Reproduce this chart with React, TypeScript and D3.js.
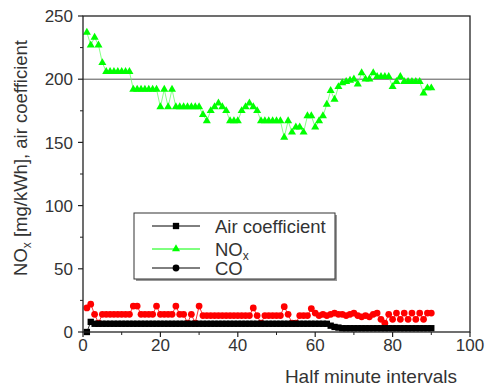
import React from "react";
import * as d3 from "d3";

const W = 489;
const H = 387;

const xIdx: number[] = d3.range(1, 91);

const noxValues: number[] = [
  237, 227, 233, 227, 213, 206, 206, 206, 206, 206, 206, 206,
  192, 192, 192, 192, 192, 192, 192,
  178, 192, 178, 192, 178, 178, 178, 178, 178, 178, 178,
  172, 167, 175, 178, 181, 178, 175, 167, 167, 167,
  175, 178, 181, 178, 175, 167, 167, 167, 167, 167,
  167, 154, 167, 158, 162, 162, 158, 171, 171, 162,
  167, 171, 180, 191, 184, 194, 197, 198, 199, 200,
  196, 205, 200, 200, 205, 202, 202, 202, 202, 194,
  198, 202, 198, 198, 198, 198, 198, 189, 193, 193,
];

const airValues: number[] = [
  0, 8, 6.5, 6.5, 6.5, 6.5, 6.5, 6.5, 6.5, 6.5,
  6.5, 6.5, 6.5, 6.5, 6.5, 6.5, 6.5, 6.5, 6.5, 6.5,
  6.5, 6.5, 6.5, 6.5, 6.5, 6.5, 6.5, 6.5, 6.5, 6.5,
  6.5, 6.5, 6.5, 6.5, 6.5, 6.5, 6.5, 6.5, 6.5, 6.5,
  6.5, 6.5, 6.5, 6.5, 6.5, 6.5, 6.5, 6.5, 6.5, 6.5,
  6.5, 6.5, 6.5, 6.5, 6.5, 6.5, 6.5, 6.5, 6.5, 6.5,
  6.5, 6.5, 6.5, 5, 4, 3.5, 3, 3, 3, 3,
  3, 3, 3, 3, 3, 3, 3, 3, 3, 3,
  3, 3, 3, 3, 3, 3, 3, 3, 3, 3,
];

const coValues: number[] = [
  19, 22, 14, 7, 14, 14, 14, 14, 14, 14,
  14, 14, 20.5, 20.5, 14, 14, 14, 14, 20.5, 14,
  14, 14, 14, 20.5, 14, 14, 7, 14, 7, 20.5,
  13, 13, 13, 13, 13, 13, 13, 13, 13, 13,
  13, 13, 13, 19, 13, 7, 13, 13, 13, 13,
  13, 20, 14, 7, 7, 13, 13, 13, 18.5, 15,
  13, 14, 13, 14, 15, 14, 14, 13, 14, 15,
  13, 12, 13, 12, 14, 15, 10, 7, 14, 10,
  15, 10, 15, 10, 15, 10, 15, 10, 15, 15,
];

const xTicks: number[] = [0, 20, 40, 60, 80, 100];
const xMinor: number[] = [10, 30, 50, 70, 90];
const yTicks: number[] = [0, 50, 100, 150, 200, 250];
const yMinor: number[] = [25, 75, 125, 175, 225];
const refLine = 200;

const FONT = "'Liberation Sans', Arial, Helvetica, sans-serif";

export default function App() {
  const x = d3.scaleLinear().domain([0, 100]).range([83, 470]);
  const y = d3.scaleLinear().domain([0, 250]).range([332, 16]);

  const mk = (vals: number[]) =>
    d3
      .line<number>()
      .x((_, i) => x(xIdx[i]))
      .y((v) => y(v))(vals) as string;

  const tri = d3.symbol().type(d3.symbolTriangle).size(28)() as string;
  const sq = d3.symbol().type(d3.symbolSquare).size(40)() as string;
  const circ = d3.symbol().type(d3.symbolCircle).size(36)() as string;

  const green = "#00ff00";
  const red = "#ff0000";
  const axisCol = "#222";
  const txt = "#333";

  const legendRows = [
    { y: 226, line: "#000", marker: sq, fill: "#000", label: "Air coefficient" },
    { y: 249, line: green, marker: tri, fill: green, label: "NOx" },
    { y: 268, line: "#000", marker: circ, fill: "#000", label: "CO" },
  ];

  return (
    <svg
      width={W}
      height={H}
      style={{ position: "absolute", left: 0, top: 0, background: "#fff" }}
      fontFamily={FONT}
    >
      <rect x={0} y={0} width={W} height={H} fill="#fff" />
      <line x1={x(0)} x2={x(100)} y1={y(refLine)} y2={y(refLine)} stroke="#555" strokeWidth={1} />

      {/* CO */}
      <path d={mk(coValues)} fill="none" stroke={red} strokeWidth={0.8} />
      {coValues.map((v, i) => (
        <path key={"c" + i} d={circ} transform={`translate(${x(xIdx[i])},${y(v)})`} fill={red} />
      ))}
      {/* Air coefficient */}
      <path d={mk(airValues)} fill="none" stroke="#000" strokeWidth={0.8} />
      {airValues.map((v, i) => (
        <path key={"a" + i} d={sq} transform={`translate(${x(xIdx[i])},${y(v)})`} fill="#000" />
      ))}
      {/* NOx */}
      <path d={mk(noxValues)} fill="none" stroke="#66ff66" strokeWidth={0.8} />
      {noxValues.map((v, i) => (
        <path key={"n" + i} d={tri} transform={`translate(${x(xIdx[i])},${y(v)})`} fill={green} />
      ))}

      {/* frame */}
      <rect x={x(0)} y={y(250)} width={x(100) - x(0)} height={y(0) - y(250)} fill="none" stroke={axisCol} strokeWidth={1.3} />

      {xTicks.map((t) => (
        <g key={"xt" + t}>
          <line x1={x(t)} x2={x(t)} y1={y(0)} y2={y(0) + 5} stroke={axisCol} strokeWidth={1.2} />
          <text x={x(t)} y={y(0) + 19} textAnchor="middle" fontSize={17} fill={txt}>
            {t}
          </text>
        </g>
      ))}
      {xMinor.map((t) => (
        <line key={"xm" + t} x1={x(t)} x2={x(t)} y1={y(0)} y2={y(0) + 3} stroke={axisCol} strokeWidth={1} />
      ))}
      {yTicks.map((t) => (
        <g key={"yt" + t}>
          <line x1={x(0) - 5} x2={x(0)} y1={y(t)} y2={y(t)} stroke={axisCol} strokeWidth={1.2} />
          <text x={x(0) - 10} y={y(t)} dy="0.36em" textAnchor="end" fontSize={17} fill={txt}>
            {t}
          </text>
        </g>
      ))}
      {yMinor.map((t) => (
        <line key={"ym" + t} x1={x(0) - 3} x2={x(0)} y1={y(t)} y2={y(t)} stroke={axisCol} strokeWidth={1} />
      ))}

      <text x={457} y={383} textAnchor="end" fontSize={19} fill={txt}>
        Half minute intervals
      </text>
      <text transform={`translate(27,158) rotate(-90)`} textAnchor="middle" fontSize={18.5} fill={txt}>
        NO<tspan fontSize={12} dy={4}>x</tspan>
        <tspan dy={-4}> [mg/kWh], air coefficient</tspan>
      </text>

      {/* legend */}
      <rect x={136} y={215} width={201} height={66} fill="#999" />
      <rect x={134} y={213} width={201} height={66} fill="#fff" stroke="#333" strokeWidth={1} />
      {legendRows.map((r) => (
        <g key={r.label}>
          <line x1={152} x2={200} y1={r.y} y2={r.y} stroke={r.line} strokeWidth={1} />
          <path d={r.marker} transform={`translate(176,${r.y})`} fill={r.fill} />
          <text x={215} y={r.y} dy="0.36em" fontSize={18.5} fill={txt}>
            {r.label === "NOx" ? (
              <>
                NO<tspan fontSize={12} dy={4}>x</tspan>
              </>
            ) : (
              r.label
            )}
          </text>
        </g>
      ))}
    </svg>
  );
}
